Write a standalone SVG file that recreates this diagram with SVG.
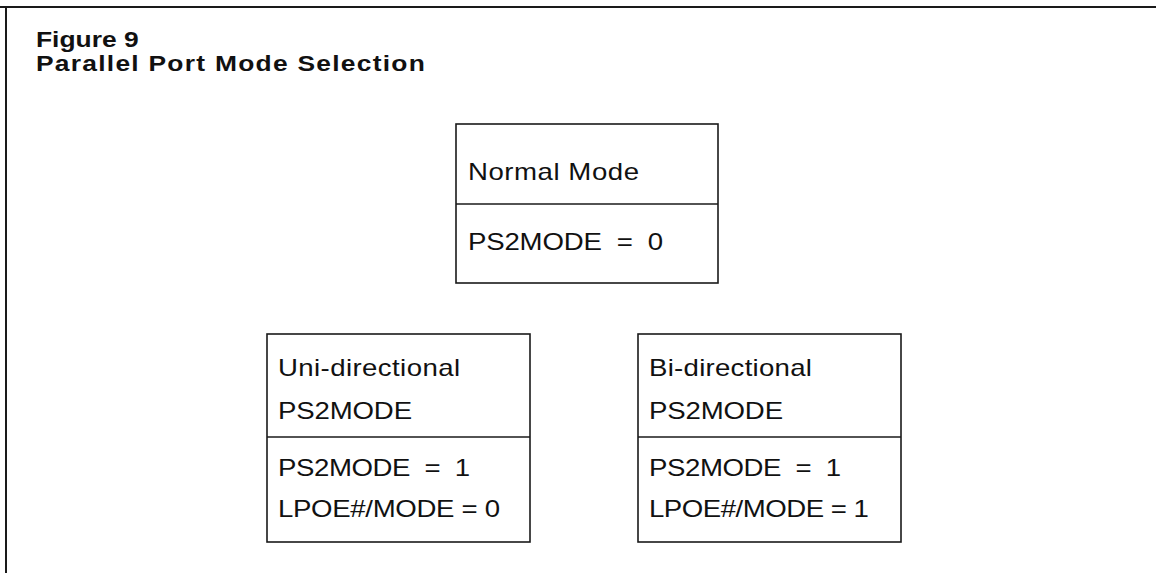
<svg xmlns="http://www.w3.org/2000/svg" width="1156" height="573" viewBox="0 0 1156 573">
  <style>
    .frame { stroke: #1a1a1a; stroke-width: 2; fill: none; }
    .box { stroke: #1a1a1a; stroke-width: 1.6; fill: #ffffff; }
    .div { stroke: #1a1a1a; stroke-width: 1.6; }
    .title { font-family: "Liberation Sans", Arial, sans-serif; font-weight: bold; font-size: 22px; fill: #111; }
    .lbl { font-family: "Liberation Sans", Arial, sans-serif; font-size: 23px; fill: #111; }
  </style>
  <rect width="1156" height="573" fill="#ffffff"/>
  <g id="frame">
    <line class="frame" x1="0" y1="7" x2="1156" y2="7"/>
    <line class="frame" x1="6" y1="6" x2="6" y2="573"/>
  </g>
  <g id="title">
    <text class="title" transform="translate(36,47) scale(1.2,1)" x="0" y="0">Figure 9</text>
    <text class="title" transform="translate(36,71) scale(1.2,1)" x="0" y="0" textLength="324" lengthAdjust="spacing">Parallel Port Mode Selection</text>
  </g>
  <g id="connectors"/>
  <g id="normal-mode">
    <rect class="box" x="456" y="124" width="262" height="159"/>
    <line class="div" x1="456" y1="204" x2="718" y2="204"/>
    <text class="lbl" transform="translate(468,180) scale(1.2,1)" x="0" y="0" textLength="142.5" lengthAdjust="spacing">Normal Mode</text>
    <text class="lbl" transform="translate(468,250) scale(1.2,1)" x="0" y="0" xml:space="preserve" textLength="162.5" lengthAdjust="spacing">PS2MODE  =  0</text>
  </g>
  <g id="uni-directional">
    <rect class="box" x="267" y="334" width="263" height="208"/>
    <line class="div" x1="267" y1="437" x2="530" y2="437"/>
    <text class="lbl" transform="translate(278,376) scale(1.2,1)" x="0" y="0" textLength="151.7" lengthAdjust="spacing">Uni-directional</text>
    <text class="lbl" transform="translate(278,419) scale(1.2,1)" x="0" y="0" textLength="111.7" lengthAdjust="spacing">PS2MODE</text>
    <text class="lbl" transform="translate(278,476) scale(1.2,1)" x="0" y="0" xml:space="preserve" textLength="160" lengthAdjust="spacing">PS2MODE  =  1</text>
    <text class="lbl" transform="translate(278,517) scale(1.2,1)" x="0" y="0" textLength="185" lengthAdjust="spacing">LPOE#/MODE = 0</text>
  </g>
  <g id="bi-directional">
    <rect class="box" x="638" y="334" width="263" height="208"/>
    <line class="div" x1="638" y1="437" x2="901" y2="437"/>
    <text class="lbl" transform="translate(649,376) scale(1.2,1)" x="0" y="0" textLength="135.8" lengthAdjust="spacing">Bi-directional</text>
    <text class="lbl" transform="translate(649,419) scale(1.2,1)" x="0" y="0" textLength="111.7" lengthAdjust="spacing">PS2MODE</text>
    <text class="lbl" transform="translate(649,476) scale(1.2,1)" x="0" y="0" xml:space="preserve" textLength="160" lengthAdjust="spacing">PS2MODE  =  1</text>
    <text class="lbl" transform="translate(649,517) scale(1.2,1)" x="0" y="0" textLength="183.3" lengthAdjust="spacing">LPOE#/MODE = 1</text>
  </g>
</svg>
